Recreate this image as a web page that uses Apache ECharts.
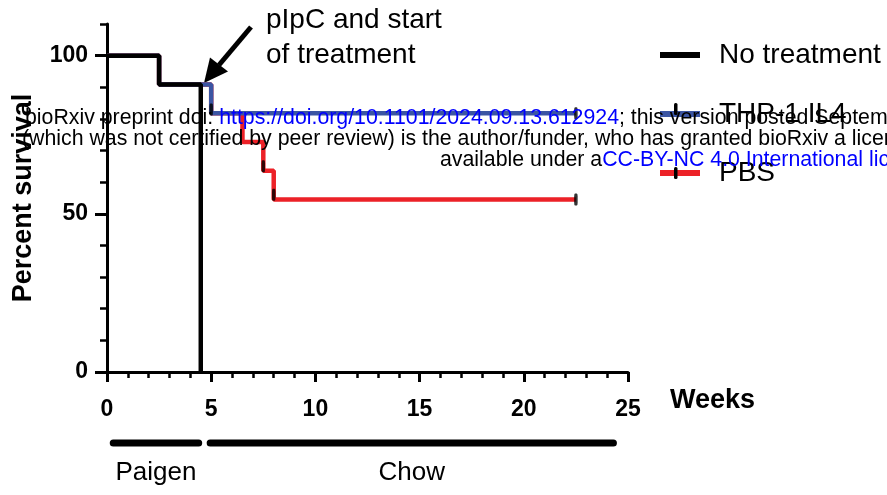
<!DOCTYPE html>
<html>
<head>
<meta charset="utf-8">
<script src="https://cdn.jsdelivr.net/npm/echarts@6/dist/echarts.min.js"></script>
<style>
html,body{margin:0;padding:0;background:#fff;}
#chart{width:887px;height:495px;}
</style>
</head>
<body>
<div id="chart"></div>
<script>
// ---- data ----
const seriesNames = ['No treatment', 'THP-1 IL4', 'PBS'];
const weeksNoTreat = [0, 2.5, 4.5];
const survNoTreat = [100, 90.9, 0];
const weeksIL4 = [0, 2.5, 5, 22.5];
const survIL4 = [100, 90.9, 81.8, 81.8];
const weeksPBS = [0, 2.5, 5, 6.5, 7.5, 8, 22.5];
const survPBS = [100, 90.9, 81.8, 72.7, 63.6, 54.5, 54.5];
const censorWeeks = [5, 22.5, 7.5, 8, 22.5];
const censorSurv = [83, 81.8, 65, 56, 54.5];
const xTicks = [0, 5, 10, 15, 20, 25];
const yTickLabels = [0, 50, 100];
const phaseNames = ['Paigen', 'Chow'];
const phaseStart = [0.3, 4.95];
const phaseEnd = [4.4, 24.3];

const FONT = "'Liberation Sans', Arial, sans-serif";
const colors = ['#000000', '#3b55a3', '#ec2127'];

function pairs(xs, ys) { return xs.map((x, i) => [x, ys[i]]); }

const chart = echarts.init(document.getElementById('chart'), null, {renderer: 'canvas'});

const axisLineStyle = {color: '#000', width: 3};

chart.setOption({
  animation: false,
  backgroundColor: '#fff',
  grid: {left: 107, right: 259, top: 24, bottom: 123, containLabel: false},
  legend: {
    data: seriesNames,
    orient: 'vertical',
    left: 655,
    top: 36,
    icon: 'rect',
    itemWidth: 40,
    itemHeight: 6,
    itemGap: 31,
    textStyle: {fontFamily: FONT, fontSize: 28, color: '#000', padding: [0, 0, 0, 14]},
    selectedMode: false
  },
  xAxis: {
    type: 'value',
    min: 0, max: 25, interval: 5,
    axisLine: {show: true, onZero: false, lineStyle: axisLineStyle},
    axisTick: {show: true, length: 10, lineStyle: {color: '#000', width: 3}},
    minorTick: {show: true, splitNumber: 5, length: 6, lineStyle: {color: '#000', width: 2.5}},
    splitLine: {show: false},
    minorSplitLine: {show: false},
    axisLabel: {fontFamily: FONT, fontSize: 23, fontWeight: 'bold', color: '#000', margin: 26,
      customValues: xTicks}
  },
  yAxis: [{
    type: 'value',
    min: 0, max: 110, interval: 10,
    axisLine: {show: true, onZero: false, lineStyle: axisLineStyle},
    axisTick: {show: true, length: 7, lineStyle: {color: '#000', width: 2.5}},
    axisLabel: {show: false},
    splitLine: {show: false}
  }, {
    type: 'value',
    position: 'left',
    offset: 0,
    min: 0, max: 110, interval: 10,
    axisLine: {show: false},
    axisTick: {show: true, length: 12, customValues: yTickLabels, lineStyle: {color: '#000', width: 3}},
    axisLabel: {fontFamily: FONT, fontSize: 23, fontWeight: 'bold', color: '#000', margin: 19,
      customValues: yTickLabels},
    splitLine: {show: false},
    name: 'Percent survival',
    nameLocation: 'middle',
    nameRotate: 90,
    nameGap: 70,
    nameTextStyle: {fontFamily: FONT, fontSize: 27, fontWeight: 'bold', color: '#000'}
  }],
  series: [{
    name: seriesNames[2], type: 'line', step: 'end', yAxisIndex: 0,
    data: pairs(weeksPBS, survPBS), showSymbol: false, symbol: 'none',
    itemStyle: {color: colors[2]}, lineStyle: {color: colors[2], width: 4.5}, z: 2
  }, {
    name: seriesNames[1], type: 'line', step: 'end', yAxisIndex: 0,
    data: pairs(weeksIL4, survIL4), showSymbol: false, symbol: 'none',
    itemStyle: {color: colors[1]}, lineStyle: {color: colors[1], width: 4.5}, z: 3
  }, {
    name: seriesNames[0], type: 'line', step: 'end', yAxisIndex: 0,
    data: pairs(weeksNoTreat, survNoTreat), showSymbol: false, symbol: 'none',
    itemStyle: {color: colors[0]}, lineStyle: {color: colors[0], width: 4.5}, z: 4
  }, {
    name: 'censored', type: 'scatter', yAxisIndex: 0,
    data: pairs(censorWeeks, censorSurv),
    symbol: 'roundRect', symbolSize: [3.5, 12],
    itemStyle: {color: '#000'}, z: 5, silent: true
  }]
});

// ---- annotations (axis name, phase bars, arrow, legend ticks, watermark) ----
const yBar = 443;
const graphics = [];
const xEnd = chart.convertToPixel({xAxisIndex: 0}, 25);
graphics.push({
  type: 'text', x: xEnd + 42, y: 401,
  style: {text: 'Weeks', font: "bold 27px " + FONT, fill: '#000', align: 'left', verticalAlign: 'middle'}
});
phaseNames.forEach((nm, i) => {
  const x0 = chart.convertToPixel({xAxisIndex: 0}, phaseStart[i]);
  const x1 = chart.convertToPixel({xAxisIndex: 0}, phaseEnd[i]);
  graphics.push({
    type: 'line', shape: {x1: x0, y1: yBar, x2: x1, y2: yBar},
    style: {stroke: '#000', lineWidth: 7, lineCap: 'round'}
  });
  graphics.push({
    type: 'text', x: (x0 + x1) / 2, y: 473,
    style: {text: nm, font: "26px " + FONT, fill: '#000', align: 'center', verticalAlign: 'middle'}
  });
});

// arrow
graphics.push({
  type: 'line', shape: {x1: 251, y1: 27, x2: 219, y2: 65},
  style: {stroke: '#000', lineWidth: 5}
});
graphics.push({
  type: 'polygon', shape: {points: [[204, 83], [228, 71.5], [210, 57.5]]},
  style: {fill: '#000'}
});
graphics.push({
  type: 'text', left: 266, top: 3,
  style: {text: 'pIpC and start\nof treatment', font: "28px " + FONT, fill: '#000', lineHeight: 35}
});

// legend censor ticks
graphics.push({type: 'rect', shape: {x: 674, y: 103, width: 3.5, height: 12, r: 1.5}, style: {fill: '#000'}, z: 100});
graphics.push({type: 'rect', shape: {x: 674, y: 167, width: 3.5, height: 12, r: 1.5}, style: {fill: '#000'}, z: 100});

// watermark overlay text
const wmFont = "21.3px " + FONT;
graphics.push({
  type: 'text', x: 25, y: 118, z: 200,
  style: {
    text: '{a|bioRxiv preprint doi: }{b|https://doi.org/10.1101/2024.09.13.612924}{a|; this version posted September 16, 2024.}',
    verticalAlign: 'middle',
    rich: {a: {font: wmFont, fill: '#000'}, b: {font: wmFont, fill: '#0000ff'}}
  }
});
graphics.push({
  type: 'text', x: 22, y: 139, z: 200,
  style: {
    text: '(which was not certified by peer review) is the author/funder, who has granted bioRxiv a license',
    font: wmFont, fill: '#000', verticalAlign: 'middle'
  }
});
graphics.push({
  type: 'text', x: 440, y: 160, z: 200,
  style: {
    text: '{a|available under a}{b|CC-BY-NC 4.0 International license}',
    verticalAlign: 'middle',
    rich: {a: {font: wmFont, fill: '#000'}, b: {font: wmFont, fill: '#0000ff'}}
  }
});

chart.setOption({graphic: graphics});
</script>
</body>
</html>
